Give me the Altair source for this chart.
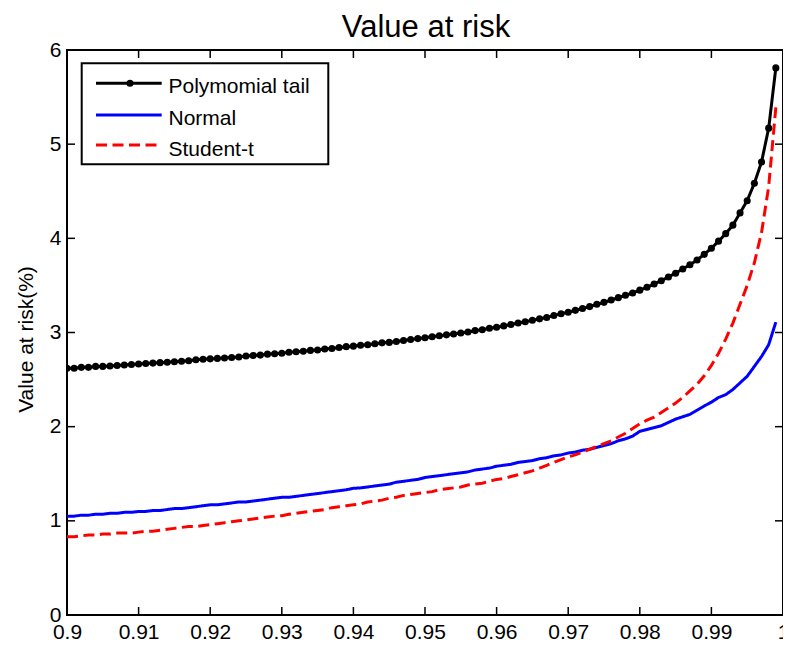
import altair as alt
import pandas as pd

FONT = "Liberation Sans"

# confidence levels 0.900 ... 0.999
levels = [round(0.900 + i * 0.001, 3) for i in range(100)]

poly_tail = [
    2.62, 2.62, 2.63, 2.63, 2.64, 2.64, 2.645, 2.65, 2.655, 2.66,
    2.665, 2.67, 2.675, 2.68, 2.685, 2.69, 2.695, 2.70, 2.71, 2.715,
    2.72, 2.725, 2.73, 2.735, 2.74, 2.75, 2.755, 2.76, 2.77, 2.775,
    2.78, 2.79, 2.795, 2.80, 2.81, 2.815, 2.825, 2.83, 2.84, 2.85,
    2.855, 2.865, 2.87, 2.88, 2.89, 2.895, 2.905, 2.915, 2.925, 2.935,
    2.945, 2.955, 2.965, 2.975, 2.985, 2.995, 3.005, 3.02, 3.03, 3.045,
    3.055, 3.07, 3.085, 3.10, 3.115, 3.13, 3.145, 3.16, 3.18, 3.20,
    3.215, 3.235, 3.255, 3.275, 3.30, 3.32, 3.345, 3.37, 3.395, 3.42,
    3.45, 3.48, 3.515, 3.55, 3.59, 3.63, 3.675, 3.72, 3.77, 3.83,
    3.895, 3.97, 4.05, 4.14, 4.27, 4.40, 4.585, 4.81, 5.17, 5.81,
]

normal = [
    1.05, 1.05, 1.06, 1.06, 1.07, 1.07, 1.08, 1.08, 1.09, 1.09,
    1.10, 1.10, 1.11, 1.11, 1.12, 1.13, 1.13, 1.14, 1.15, 1.16,
    1.17, 1.17, 1.18, 1.19, 1.20, 1.20, 1.21, 1.22, 1.23, 1.24,
    1.25, 1.25, 1.26, 1.27, 1.28, 1.29, 1.30, 1.31, 1.32, 1.33,
    1.345, 1.35, 1.36, 1.37, 1.38, 1.39, 1.41, 1.42, 1.43, 1.44,
    1.46, 1.47, 1.48, 1.49, 1.50, 1.51, 1.52, 1.54, 1.55, 1.56,
    1.58, 1.59, 1.60, 1.62, 1.63, 1.64, 1.66, 1.67, 1.69, 1.70,
    1.72, 1.73, 1.75, 1.76, 1.78, 1.80, 1.82, 1.85, 1.87, 1.90,
    1.95, 1.97, 1.99, 2.01, 2.045, 2.08, 2.105, 2.13, 2.175, 2.22,
    2.26, 2.31, 2.34, 2.395, 2.465, 2.535, 2.64, 2.745, 2.87, 3.11,
]

student_t = [
    0.83, 0.83, 0.84, 0.85, 0.85, 0.86, 0.86, 0.87, 0.87, 0.87,
    0.88, 0.89, 0.89, 0.90, 0.91, 0.92, 0.93, 0.94, 0.94, 0.95,
    0.96, 0.97, 0.98, 0.99, 1.00, 1.01, 1.02, 1.03, 1.04, 1.05,
    1.055, 1.07, 1.08, 1.09, 1.10, 1.11, 1.12, 1.14, 1.15, 1.16,
    1.17, 1.18, 1.20, 1.21, 1.22, 1.24, 1.25, 1.27, 1.28, 1.29,
    1.30, 1.31, 1.33, 1.34, 1.35, 1.36, 1.38, 1.39, 1.40, 1.42,
    1.44, 1.45, 1.47, 1.49, 1.51, 1.53, 1.56, 1.59, 1.62, 1.65,
    1.68, 1.70, 1.73, 1.76, 1.79, 1.82, 1.85, 1.89, 1.93, 1.98,
    2.03, 2.07, 2.10, 2.15, 2.20, 2.25, 2.31, 2.38, 2.45, 2.54,
    2.65, 2.78, 2.93, 3.10, 3.30, 3.50, 3.74, 4.06, 4.55, 5.39,
]

series_names = ["Polymomial tail", "Normal", "Student-t"]
series_colors = ["#000000", "#0000ff", "#ff0000"]
x_ticks = [0.9, 0.91, 0.92, 0.93, 0.94, 0.95, 0.96, 0.97, 0.98, 0.99, 1.0]
y_ticks = [0, 1, 2, 3, 4, 5, 6]
chart_title = "Value at risk"

rows = []
for name, vals in zip(series_names, [poly_tail, normal, student_t]):
    for p, v in zip(levels, vals):
        rows.append({"p": p, "v": v, "series": name})
df = pd.DataFrame(rows)

W, H = 716, 565
TICK = 8

xscale = alt.Scale(domain=[0.9, 1.0], nice=False, zero=False)
yscale = alt.Scale(domain=[0, 6], nice=False, zero=False)

x_axis = alt.Axis(values=x_ticks, format=".2~f", title=None, grid=False, domain=False,
                  ticks=False, tickSize=0, labelPadding=6, labelFontSize=21,
                  labelFont=FONT, labelColor="black", labelFlush=False,
                  labelOverlap=False, labelBound=False)
y_axis = alt.Axis(values=y_ticks, format="d", title="Value at risk(%)", grid=False,
                  domain=False, ticks=False, tickSize=0, labelPadding=6,
                  labelFontSize=21, labelFont=FONT, labelColor="black",
                  labelFlush=False, labelOverlap=False,
                  titleFontSize=21, titleFont=FONT, titleFontWeight="normal",
                  titleColor="black", titleX=-34.5, titleY=289, titleAngle=-90,
                  titleAlign="center", titleBaseline="alphabetic")

lines = alt.Chart(df).mark_line(strokeWidth=3, clip=True).encode(
    x=alt.X("p:Q", scale=xscale, axis=x_axis),
    y=alt.Y("v:Q", scale=yscale, axis=y_axis),
    color=alt.Color("series:N", scale=alt.Scale(domain=series_names, range=series_colors),
                    legend=None),
    strokeDash=alt.StrokeDash("series:N",
                              scale=alt.Scale(domain=series_names,
                                              range=[[1, 0], [1, 0], [11, 5.5]]),
                              legend=None),
)

dots = alt.Chart(df[df["series"] == "Polymomial tail"]).mark_circle(
    size=50, color="black", opacity=1, clip=True
).encode(x=alt.X("p:Q", scale=xscale), y=alt.Y("v:Q", scale=yscale))

xt = pd.DataFrame({"t": x_ticks})
yt = pd.DataFrame({"t": y_ticks})
tick_style = dict(color="black", strokeWidth=1.5)
xt_bottom = alt.Chart(xt).mark_rule(**tick_style).encode(
    x=alt.X("t:Q", scale=xscale), y=alt.value(H), y2=alt.value(H - TICK))
xt_top = alt.Chart(xt).mark_rule(**tick_style).encode(
    x=alt.X("t:Q", scale=xscale), y=alt.value(0), y2=alt.value(TICK))
yt_left = alt.Chart(yt).mark_rule(**tick_style).encode(
    y=alt.Y("t:Q", scale=yscale), x=alt.value(0), x2=alt.value(TICK))
yt_right = alt.Chart(yt).mark_rule(**tick_style).encode(
    y=alt.Y("t:Q", scale=yscale), x=alt.value(W - TICK), x2=alt.value(W))

one = alt.Data(values=[{"k": 1}])
title_text = alt.Chart(one).mark_text(align="center", baseline="alphabetic", fontSize=31,
                                      font=FONT, color="black").encode(
    x=alt.value(359), y=alt.value(-13), text=alt.value(chart_title))

legend_box = alt.Chart(one).mark_rect(fill="white", stroke="black", strokeWidth=2).encode(
    x=alt.value(14.7), x2=alt.value(261.3), y=alt.value(13.3), y2=alt.value(114.3))

leg_line_y = [33.3, 65, 95]
leg_text_y = [43.3, 75, 105.7]
leg_dash = [[1, 0], [1, 0], [11, 5.5]]
legend_layers = [legend_box]
for name, col, ly, ty, dash in zip(series_names, series_colors, leg_line_y, leg_text_y, leg_dash):
    legend_layers.append(
        alt.Chart(one).mark_rule(color=col, strokeWidth=3, strokeDash=dash).encode(
            x=alt.value(29), x2=alt.value(94.7), y=alt.value(ly)))
    legend_layers.append(
        alt.Chart(one).mark_text(align="left", baseline="alphabetic", fontSize=21,
                                 font=FONT, color="black").encode(
            x=alt.value(101.5), y=alt.value(ty), text=alt.value(name)))
legend_layers.append(
    alt.Chart(one).mark_circle(size=50, color="black", opacity=1).encode(
        x=alt.value(63), y=alt.value(leg_line_y[0])))

chart = alt.layer(
    lines, dots, xt_bottom, xt_top, yt_left, yt_right, title_text, *legend_layers
).properties(
    width=W, height=H,
    autosize=alt.AutoSizeParams(type="none"),
    padding={"left": 59, "top": 42, "right": 0, "bottom": 30},
).configure_view(stroke="black", strokeWidth=2)

chart.save("out.html", embed_options={"renderer": "svg", "actions": False})
